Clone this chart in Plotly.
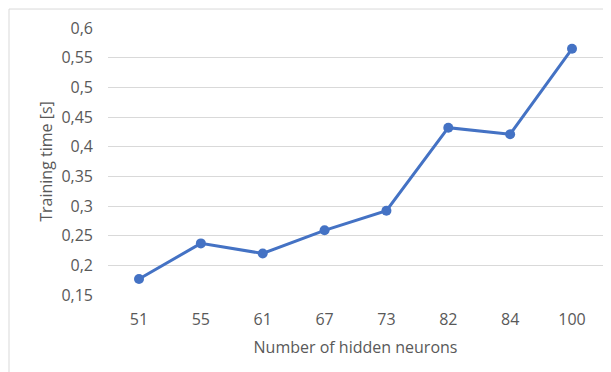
import plotly.graph_objects as go

neurons = ["51", "55", "61", "67", "73", "82", "84", "100"]
training_time = [0.177, 0.237, 0.220, 0.259, 0.292, 0.432, 0.421, 0.565]
y_tick_vals = [0.15, 0.2, 0.25, 0.3, 0.35, 0.4, 0.45, 0.5, 0.55, 0.6]
y_tick_text = ["0,15", "0,2", "0,25", "0,3", "0,35", "0,4", "0,45", "0,5", "0,55", "0,6"]

BLUE = "#4472C4"
TEXT = "#595959"
GRID = "#D9D9D9"
FONT = "Open Sans"
FS = 16

fig = go.Figure()
fig.add_trace(go.Scatter(
    x=neurons, y=training_time, mode="lines+markers",
    line=dict(color=BLUE, width=3),
    marker=dict(color=BLUE, size=10),
    showlegend=False, hoverinfo="x+y",
))

fig.update_layout(
    width=603, height=364,
    margin=dict(l=100, r=8, t=20, b=77),
    paper_bgcolor="white", plot_bgcolor="white",
    font=dict(family=FONT, size=FS, color=TEXT),
    xaxis=dict(
        type="category", showgrid=False, showline=False, zeroline=False,
        ticks="", ticklabelstandoff=13, tickfont=dict(size=FS, color=TEXT),
        title=dict(text="Number of hidden neurons", font=dict(size=FS, color=TEXT), standoff=12),
    ),
    yaxis=dict(
        range=[0.15, 0.6], tickvals=y_tick_vals, ticktext=y_tick_text,
        showgrid=True, gridcolor=GRID, gridwidth=1, zeroline=False, showline=False,
        ticks="", ticklabelstandoff=14, tickfont=dict(size=FS, color=TEXT),
        title=dict(text="Training time [s]", font=dict(size=FS, color=TEXT), standoff=4),
    ),
    shapes=[dict(
        type="rect", xref="paper", yref="paper",
        x0=-0.2, x1=1.05, y0=-0.4, y1=1.071,
        line=dict(color=GRID, width=1), fillcolor="rgba(0,0,0,0)", layer="below",
    )],
)

fig.write_html("out.html")
